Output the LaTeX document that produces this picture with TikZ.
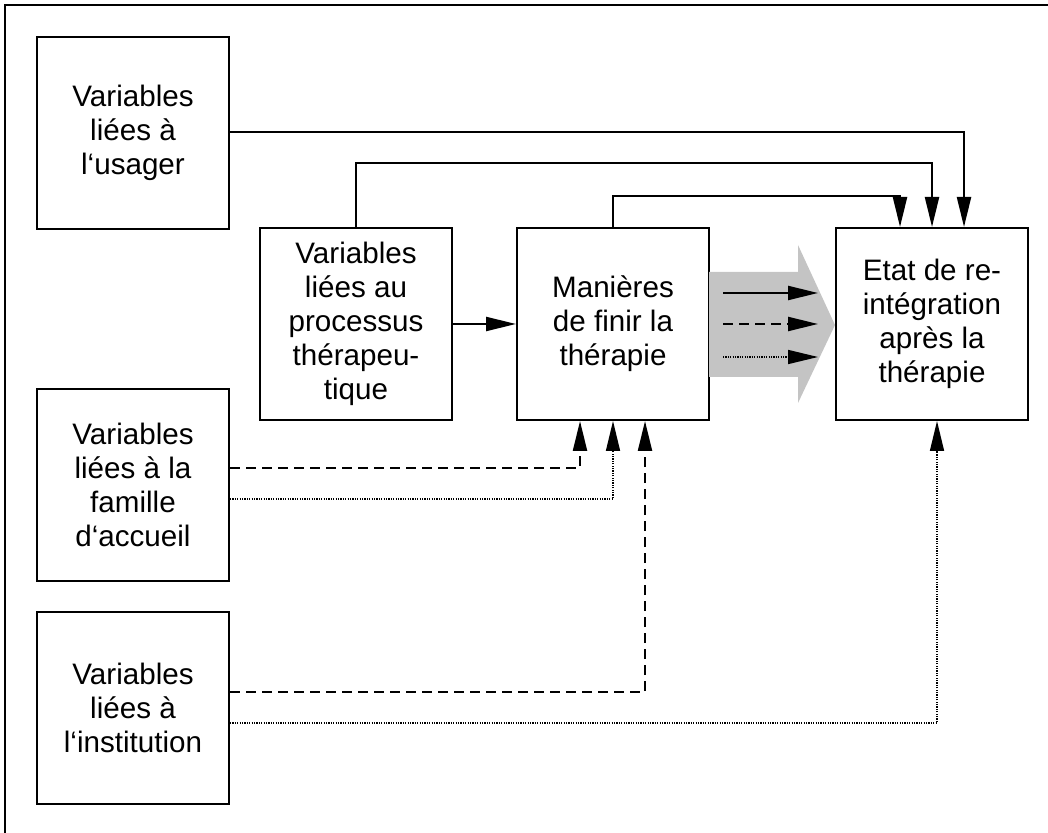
\documentclass[tikz,border=0pt]{standalone}
\usepackage{fontspec}
\setmainfont{Liberation Sans}
\usepackage{tikz}
\usetikzlibrary{arrows.meta, positioning, calc}
\definecolor{arrowgray}{HTML}{C4C4C4}

\begin{document}
\begin{tikzpicture}[x=0.5pt, y=-0.5pt,
  varbox/.style={draw, line width=1pt, minimum width=96pt, minimum height=96pt,
    inner sep=0pt, align=center, font=\fontsize{14.8pt}{17pt}\selectfont},
  conn/.style={line width=1.1pt, -{Triangle[length=15pt, width=7pt]}},
  dashconn/.style={conn, dash pattern=on 5pt off 3pt},
  dotconn/.style={conn, line width=0.8pt, dash pattern=on 0.6pt off 0.6pt}]
  \useasboundingbox (0,0) rectangle (1048,833);
  % frame
  \draw[line width=1pt] (5,5) rectangle (1100,900);
  % boxes
  \node[varbox] (usager) at (133,133) {Variables\\liées à\\l‘usager};
  \node[varbox] (processus) at (356,324) {Variables\\liées au\\processus\\thérapeu-\\tique};
  \node[varbox] (manieres) at (613,324) {Manières\\de finir la\\thérapie};
  \node[varbox] (etat) at (932,324) {Etat de re-\\intégration\\après la\\thérapie};
  \node[varbox] (famille) at (133,485) {Variables\\liées à la\\famille\\d‘accueil};
  \node[varbox] (institution) at (133,708) {Variables\\liées à\\l‘institution};
  % big gray arrow
  \fill[arrowgray] (709,272) -- (798,272) -- (798,245) -- (835,325)
    -- (798,403) -- (798,377) -- (709,377) -- cycle;
  \foreach \y/\s in {293/conn, 324/dashconn, 357/dotconn} {
    \coordinate (l\y) at (723,\y);
    \coordinate (r\y) at (818,\y);
    \draw[\s] (l\y) -- (r\y);
  }
  % arrows to the result
  \draw[conn] ([yshift=0.5pt]usager.east) -| ([xshift=16pt]etat.north);
  \draw[conn] (processus.north) -- ++(0,-64) -| (etat.north);
  \draw[conn] (manieres.north) -- ++(0,-31) -| ([xshift=-16pt]etat.north);
  \draw[conn] (processus.east) -- (manieres.west);
  % arrows from below
  \draw[dashconn] ([yshift=8.5pt]famille.east) -| ([xshift=-16.5pt]manieres.south);
  \draw[dotconn] ([yshift=-7pt]famille.east) -| (manieres.south);
  \draw[dashconn] ([yshift=8pt]institution.east) -| ([xshift=16pt]manieres.south);
  \draw[dotconn] ([yshift=-7.5pt]institution.east) -| ([xshift=2.5pt]etat.south);
\end{tikzpicture}
\end{document}
